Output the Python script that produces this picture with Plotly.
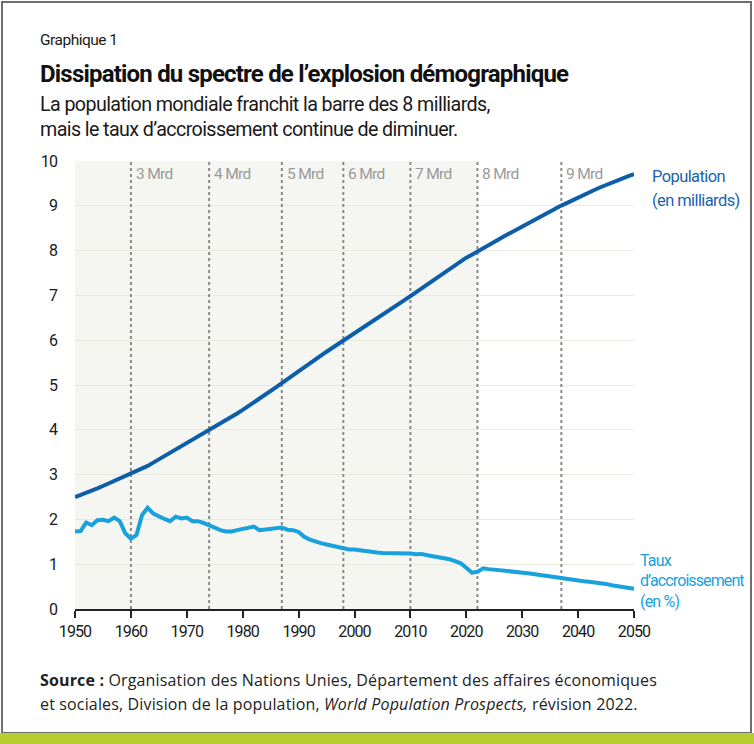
import plotly.graph_objects as go

years = list(range(1950, 2051))

population = [
    2.499, 2.543, 2.590, 2.640, 2.691, 2.746, 2.800, 2.856, 2.915, 2.966,
    3.019, 3.068, 3.128, 3.195, 3.267, 3.339, 3.410, 3.478, 3.551, 3.623,
    3.695, 3.769, 3.843, 3.917, 3.994, 4.070, 4.143, 4.215, 4.289, 4.365,
    4.444, 4.524, 4.607, 4.690, 4.774, 4.862, 4.951, 5.041, 5.132, 5.224,
    5.316, 5.406, 5.492, 5.577, 5.660, 5.743, 5.825, 5.906, 5.987, 6.068,
    6.149, 6.230, 6.312, 6.393, 6.475, 6.558, 6.642, 6.727, 6.812, 6.898,
    6.986, 7.073, 7.161, 7.250, 7.339, 7.427, 7.513, 7.600, 7.684, 7.765,
    7.841, 7.909, 7.975, 8.045, 8.119, 8.192, 8.264, 8.336, 8.406, 8.476,
    8.546, 8.614, 8.681, 8.748, 8.814, 8.879, 8.942, 9.005, 9.067, 9.128,
    9.188, 9.246, 9.303, 9.359, 9.414, 9.468, 9.519, 9.569, 9.617, 9.664,
    9.709,
]

growth_rate = [
    1.73, 1.74, 1.93, 1.87, 1.98, 1.99, 1.96, 2.04, 1.96, 1.69,
    1.57, 1.65, 2.10, 2.26, 2.13, 2.06, 2.01, 1.96, 2.06, 2.02,
    2.04, 1.96, 1.96, 1.92, 1.87, 1.80, 1.76, 1.73, 1.73, 1.76,
    1.78, 1.81, 1.84, 1.76, 1.77, 1.78, 1.81, 1.82, 1.77, 1.76,
    1.72, 1.61, 1.55, 1.50, 1.47, 1.44, 1.41, 1.38, 1.34, 1.33,
    1.33, 1.31, 1.28, 1.27, 1.26, 1.25, 1.25, 1.25, 1.25, 1.24,
    1.24, 1.22, 1.23, 1.20, 1.18, 1.16, 1.14, 1.11, 1.07, 1.02,
    0.92, 0.81, 0.83, 0.91, 0.89, 0.88, 0.87, 0.85, 0.84, 0.83,
    0.81, 0.80, 0.78, 0.76, 0.74, 0.72, 0.70, 0.68, 0.67, 0.65,
    0.64, 0.62, 0.61, 0.60, 0.58, 0.56, 0.53, 0.51, 0.49, 0.47,
    0.45,
]

milestone_years = [1960, 1974, 1987, 1998, 2010, 2022, 2037]
milestone_labels = ["3 Mrd", "4 Mrd", "5 Mrd", "6 Mrd", "7 Mrd", "8 Mrd", "9 Mrd"]

x_ticks = list(range(1950, 2051, 10))
y_ticks = list(range(0, 11))

observed_end = 2022

# ---------------------------------------------------------------
W, H = 754, 744
L, R, T, B = 75, 120, 161, 135
PW, PH = W - L - R, H - T - B

def px(x):
    return (x - L) / PW

def py(y):
    return (H - B - y) / PH

COND = "Roboto, Liberation Sans, sans-serif"
REG = "Open Sans, sans-serif"
POP_COLOR = "#0d5ea9"
RATE_COLOR = "#18a1dc"

def narrow(s, ls=-0.6):
    return f'<span style="letter-spacing:{ls}px">{s}</span>'

fig = go.Figure()

fig.add_trace(go.Scatter(
    x=years, y=population, mode="lines",
    line=dict(color=POP_COLOR, width=4), hoverinfo="skip", showlegend=False,
))
fig.add_trace(go.Scatter(
    x=years, y=growth_rate, mode="lines",
    line=dict(color=RATE_COLOR, width=4), hoverinfo="skip", showlegend=False,
))

shapes = [
    dict(type="rect", xref="x", yref="y", x0=years[0], x1=observed_end,
         y0=0, y1=10, fillcolor="#f5f5f1", line=dict(width=0), layer="below"),
]
annotations = []
for yr, lab in zip(milestone_years, milestone_labels):
    shapes.append(dict(type="line", xref="x", yref="y", x0=yr, x1=yr, y0=0, y1=10,
                       line=dict(color="#8a8a8a", width=2, dash="dot"), layer="between"))
    annotations.append(dict(x=yr, y=9.72, xref="x", yref="y", text=narrow(lab, -0.7), showarrow=False,
                            xanchor="left", yanchor="middle", xshift=3,
                            font=dict(family=COND, size=15.5, color="#9a9a9a")))

# frame and green band
shapes.append(dict(type="rect", xref="paper", yref="paper",
                   x0=px(2), x1=px(751), y0=py(733), y1=py(2),
                   line=dict(color="#6e6e6e", width=2), fillcolor="rgba(0,0,0,0)", layer="above"))
shapes.append(dict(type="rect", xref="paper", yref="paper",
                   x0=px(0), x1=px(754), y0=py(744), y1=py(733),
                   line=dict(width=0), fillcolor="#b7cf2e", layer="above"))

def txt(x, y, text, size, family, color="#1a1a1a", xanchor="left"):
    annotations.append(dict(x=px(x), y=py(y), xref="paper", yref="paper", text=text,
                            showarrow=False, xanchor=xanchor, yanchor="middle", align="left",
                            font=dict(family=family, size=size, color=color)))

txt(38, 40, narrow("Graphique 1", -0.5), 15.5, COND)
txt(38, 74, "<b>" + narrow("Dissipation du spectre de l\u2019explosion démographique", -0.8) + "</b>", 24, COND, "#111")
txt(38, 104, narrow("La population mondiale franchit la barre des 8 milliards,", -0.6), 19.7, COND)
txt(38, 129, narrow("mais le taux d\u2019accroissement continue de diminuer.", -0.6), 19.7, COND)

txt(650, 176, narrow("Population", -0.6), 16.5, COND, "#1b63ae")
txt(650, 200, narrow("(en milliards)", -0.6), 16.5, COND, "#1b63ae")
txt(638, 560, narrow("Taux", -0.8), 16, COND, RATE_COLOR)
txt(638, 580, narrow("d\u2019accroissement", -0.9), 16, COND, RATE_COLOR)
txt(638, 601, narrow("(en %)", -0.8), 16, COND, RATE_COLOR)

txt(38, 680, narrow("<b>Source :</b> Organisation des Nations Unies, Département des affaires économiques", 0.15), 16, REG, "#222")
txt(38, 704, narrow("et sociales, Division de la population, <i>World Population Prospects,</i> révision 2022.", 0.15), 16, REG, "#222")

fig.update_layout(
    width=W, height=H,
    margin=dict(l=L, r=R, t=T, b=B),
    paper_bgcolor="white", plot_bgcolor="white",
    shapes=shapes, annotations=annotations,
    xaxis=dict(range=[1950, 2050], tickvals=x_ticks,
               ticktext=[narrow(str(v), -0.9) for v in x_ticks],
               showgrid=False, zeroline=False,
               showline=True, linecolor="#222", linewidth=1.5,
               ticks="outside", ticklen=7, tickwidth=1.5, tickcolor="#222",
               tickfont=dict(family=COND, size=16, color="#1a1a1a")),
    yaxis=dict(range=[0, 10], tickvals=y_ticks,
               ticktext=[narrow(str(v), -0.9) for v in y_ticks],
               showgrid=True, gridcolor="#e9e9e0",
               gridwidth=1, zeroline=False, showline=False, ticks="",
               ticklabelstandoff=17,
               tickfont=dict(family=COND, size=16, color="#1a1a1a")),
)

fig.write_html("out.html", config={"displayModeBar": False},
               post_script="document.body.style.margin='0';document.body.style.overflow='hidden';")
